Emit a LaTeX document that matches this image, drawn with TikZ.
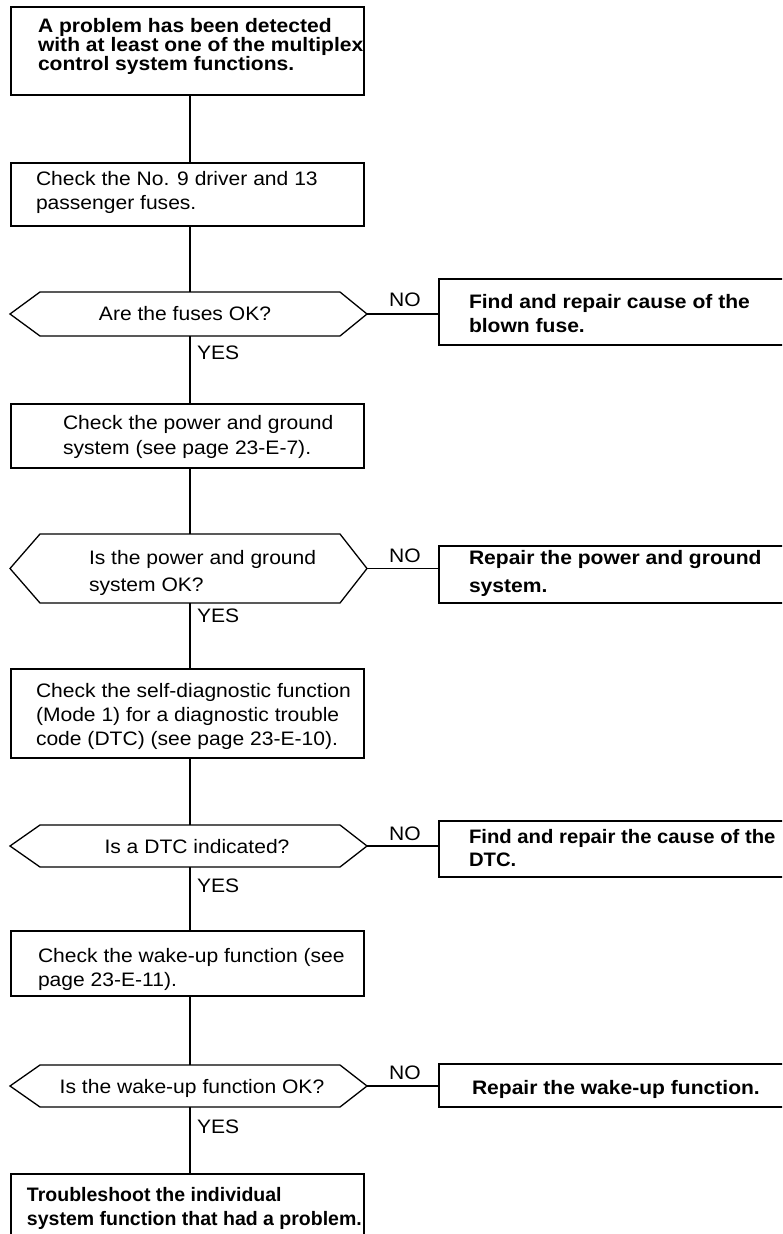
\documentclass[tikz,border=0pt]{standalone}
\usepackage{fontspec}
\setmainfont{Liberation Sans}[FakeStretch=1.08]
\newfontfamily\plainsans{Liberation Sans}
\newfontfamily\midsans{Liberation Sans}[FakeStretch=1.04]
\begin{document}
\begin{tikzpicture}[x=1pt,y=-1pt,
  every node/.style={inner sep=0pt,outer sep=0pt},
  stepbox/.style={draw,line width=1.4pt,rectangle,anchor=north west,minimum width=353pt},
  nobox/.style={draw,line width=1.4pt,rectangle,anchor=north west,minimum width=360pt},
  decbox/.style={rectangle,anchor=north west,minimum width=357pt},
  link/.style={line width=1.3pt},
  txt/.style={anchor=north west,align=left,font=\fontsize{19.5}{24}\selectfont},
  btxt/.style={anchor=north west,align=left,font=\fontsize{19.5}{24}\selectfont\bfseries},
  lbl/.style={font=\fontsize{19.5}{24}\selectfont}]
\useasboundingbox (0,0) rectangle (782,1234);
\clip (0,0) rectangle (782,1234);
\coordinate (spine) at (190,0);

% main column of step boxes
\node[stepbox,minimum height=88pt] (b1) at (11,7) {};
\node[stepbox,minimum height=63pt] (b2) at (11,163) {};
\node[stepbox,minimum height=64pt] (b3) at (11,404) {};
\node[stepbox,minimum height=89pt] (b4) at (11,669) {};
\node[stepbox,minimum height=65pt] (b5) at (11,931) {};
\node[stepbox,minimum height=90pt] (b6) at (11,1174) {};

% decisions
\node[decbox,minimum height=44pt] (d1) at (10,292) {};
\node[decbox,minimum height=69pt] (d2) at (10,534) {};
\node[decbox,minimum height=42pt] (d3) at (10,825) {};
\node[decbox,minimum height=42pt] (d4) at (10,1065) {};
\foreach \d in {d1,d2,d3,d4}
  \draw[link] (\d.west) -- ([xshift=30pt]\d.north west) -- ([xshift=-27pt]\d.north east)
    -- (\d.east) -- ([xshift=-27pt]\d.south east) -- ([xshift=30pt]\d.south west) -- cycle;

% NO branch boxes
\node[nobox,minimum height=66pt] (n1) at (439,279) {};
\node[nobox,minimum height=57pt] (n2) at (439,546) {};
\node[nobox,minimum height=56pt] (n3) at (439,821) {};
\node[nobox,minimum height=43pt] (n4) at (439,1064) {};

% texts
\node[btxt,font=\fontsize{19.5}{17.5}\selectfont\bfseries] (t1) at (38,18)
  {A problem has been detected\\with at least one of the multiplex\\control system functions.};
\node[txt] (t2) at (36,171) {Check the No. 9 driver and 13\\passenger fuses.};
\node[txt,font=\fontsize{19.5}{25}\selectfont] (t3) at (63,415) {Check the power and ground\\system (see page 23-E-7).};
\node[txt] (t4) at (36,683) {Check the self-diagnostic function\\(Mode 1) for a diagnostic trouble\\code (DTC) (see page 23-E-10).};
\node[txt] (t5) at (38,948) {Check the wake-up function (see\\page 23-E-11).};
\node[btxt,font=\plainsans\fontsize{19.5}{24}\selectfont\bfseries] (t6) at (27,1187) {Troubleshoot the individual\\system function that had a problem.};

\node[lbl,anchor=base] (q1) at (185,320) {Are the fuses OK?};
\node[txt,font=\fontsize{19.5}{27.5}\selectfont] (q2) at (89,550) {Is the power and ground\\system OK?};
\node[lbl,anchor=base] (q3) at (197,853) {Is a DTC indicated?};
\node[lbl,anchor=base] (q4) at (192,1093) {Is the wake-up function OK?};

\node[btxt] (r1) at (469,294) {Find and repair cause of the\\blown fuse.};
\node[btxt,font=\fontsize{19.5}{28}\selectfont\bfseries] (r2) at (469,550) {Repair the power and ground\\system.};
\node[btxt,font=\midsans\fontsize{19.5}{23}\selectfont\bfseries] (r3) at (469,829) {Find and repair the cause of the\\DTC.};
\node[lbl,anchor=base west,font=\fontsize{19.5}{24}\selectfont\bfseries] (r4) at (472,1094) {Repair the wake-up function.};

% NO / YES labels
\node[lbl,anchor=base] (no1) at (405,306) {NO};
\node[lbl,anchor=base] (no2) at (405,562) {NO};
\node[lbl,anchor=base] (no3) at (405,840) {NO};
\node[lbl,anchor=base] (no4) at (405,1079) {NO};
\node[lbl,anchor=north west] (yes1) at (197,346) {YES};
\node[lbl,anchor=north west] (yes2) at (197,609) {YES};
\node[lbl,anchor=north west] (yes3) at (197,879) {YES};
\node[lbl,anchor=north west] (yes4) at (197,1120) {YES};

% vertical flow
\draw[link] (b1.south -| spine) -- (b2.north -| spine);
\draw[link] (b2.south -| spine) -- (d1.north -| spine);
\draw[link] (d1.south -| spine) -- (b3.north -| spine);
\draw[link] (b3.south -| spine) -- (d2.north -| spine);
\draw[link] (d2.south -| spine) -- (b4.north -| spine);
\draw[link] (b4.south -| spine) -- (d3.north -| spine);
\draw[link] (d3.south -| spine) -- (b5.north -| spine);
\draw[link] (b5.south -| spine) -- (d4.north -| spine);
\draw[link] (d4.south -| spine) -- (b6.north -| spine);

% NO branches
\foreach \i in {1,2,3,4}
  \draw[link] (d\i.east) -- (d\i.east -| n\i.west);
\end{tikzpicture}
\end{document}
